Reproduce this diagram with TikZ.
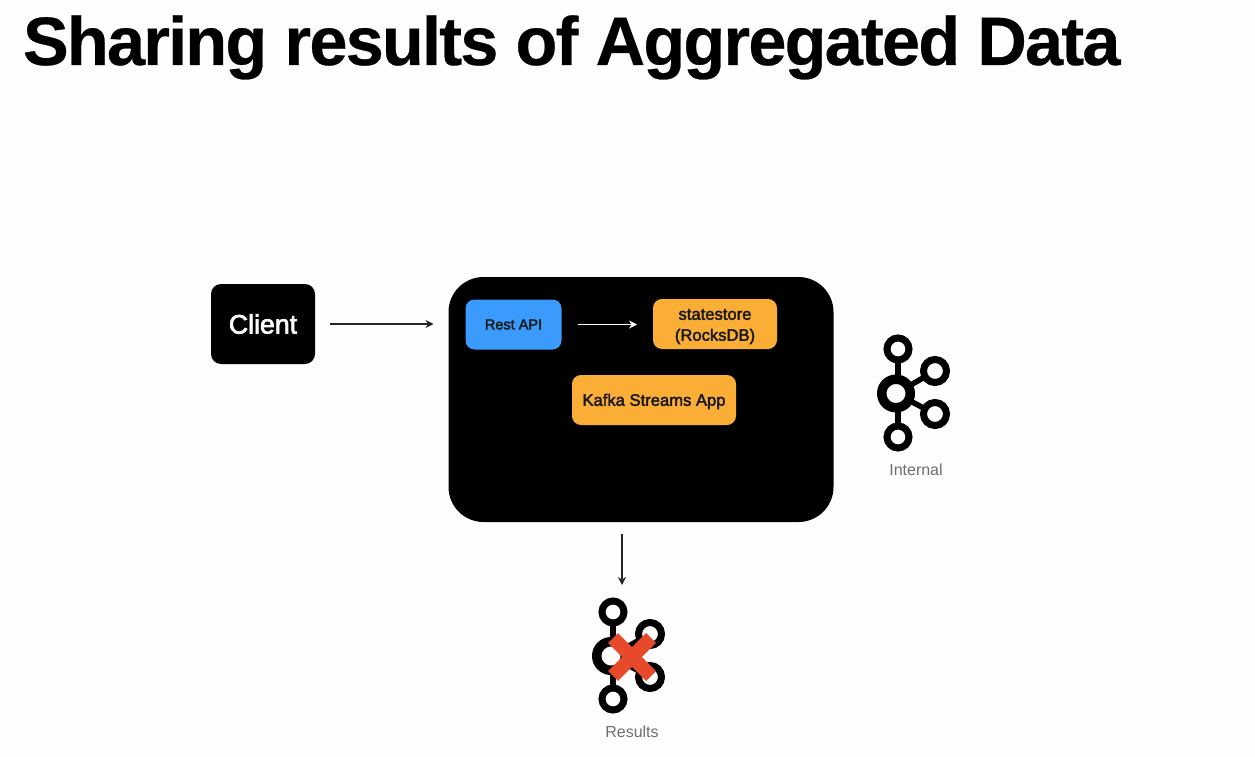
\documentclass[tikz,border=0pt]{standalone}
\usepackage{fontspec}
\setmainfont{Liberation Sans}
\newfontfamily\medfont[FakeBold=2.5]{Liberation Sans}
\newfontfamily\titlefont[FakeBold=0.4,LetterSpace=-2.62]{Liberation Sans Bold}
\usetikzlibrary{arrows.meta}
\definecolor{orangebox}{HTML}{FBAE35}
\definecolor{bluebox}{HTML}{3A9BFC}
\definecolor{crossred}{HTML}{E64A2A}
\definecolor{pagebg}{HTML}{FEFEFE}
\definecolor{labelgrey}{HTML}{6E6E6E}
\tikzset{
  every node/.style={inner sep=0pt,outer sep=0pt,font=\medfont},
  blackbox/.style={fill=black,text=white,rounded corners=#1},
  innerbox/.style={rounded corners=9pt,align=center,text=black!90,font=\medfont\fontsize{16.6}{21}\selectfont},
  flow/.style={line width=1.4pt,-{Stealth[length=8pt,width=8pt]},color=black!85},
  hubring/.style={circle,draw=black,fill=pagebg,line width=9.5pt,minimum size=28.5pt},
  leafring/.style={circle,draw=black,fill=pagebg,line width=7pt,minimum size=22pt},
  siderring/.style={circle,draw=black,fill=pagebg,line width=7pt,minimum size=23pt},
  spoke/.style={line width=5.5pt,color=black},
  iconlabel/.style={text=labelgrey,font=\fontsize{16}{18}\selectfont},
  crossarm/.style={line width=14pt,color=crossred}
}
\begin{document}
\begin{tikzpicture}[x=1pt,y=-1pt]
\useasboundingbox (0,0) rectangle (1255,757);
\fill[pagebg] (0,0) rectangle (1255,757);
\node[anchor=base west,font=\titlefont\fontsize{68.5}{72}\selectfont,text=black] (title) at (23,65) {Sharing results of Aggregated Data};

\node[blackbox=10pt,minimum width=104pt,minimum height=80pt,font=\medfont\fontsize{26.7}{30}\selectfont] (client) at (263,324) {Client};
\node[blackbox=35pt,minimum width=385pt,minimum height=245pt] (app) at (641,399.5) {};
\node[innerbox,fill=bluebox,minimum width=96pt,minimum height=50pt,font=\medfont\fontsize{14.5}{20}\selectfont] (rest) at (513.5,324.5) {Rest API};
\node[innerbox,fill=orangebox,minimum width=124pt,minimum height=50pt] (state) at (715,324) {\rule{0pt}{16pt}statestore\\(RocksDB)};
\node[innerbox,fill=orangebox,minimum width=164pt,minimum height=50pt] (streams) at (654,400) {\rule{0pt}{15pt}Kafka Streams App};

\coordinate (clientout) at (client.east);
\coordinate (appin) at (clientout -| app.west);
\draw[flow,shorten <=15pt,shorten >=15pt] (clientout) -- (appin);
\draw[flow,white,shorten <=16pt,shorten >=16pt] (rest.east) -- (rest.east -| state.west);
\coordinate (appout) at (622,522);
\coordinate (resultsin) at (622,585);
\draw[flow,shorten <=12pt] (appout) -- (resultsin);

% internal icon
\draw[spoke] (898,393.5) -- (898,349);
\draw[spoke] (898,393.5) -- (898,437);
\draw[spoke] (896,393.5) -- (935,371);
\draw[spoke] (896,393.5) -- (935,414);
\node[hubring] (ihub) at (896,393.5) {};
\node[leafring] (itop) at (898,349) {};
\node[leafring] (ibot) at (898,437) {};
\node[siderring] (irt) at (935,371) {};
\node[siderring] (irb) at (935,414) {};
\node[iconlabel] (ilabel) at (916,470) {Internal};

% results icon
\draw[spoke] (613,656) -- (613,612);
\draw[spoke] (613,656) -- (613,699);
\draw[spoke] (611,656) -- (650,634);
\draw[spoke] (611,656) -- (650,677);
\node[hubring] (rhub) at (611,656) {};
\node[leafring] (rtop) at (613,612) {};
\node[leafring] (rbot) at (613,699) {};
\node[siderring] (rrt) at (650,634) {};
\node[siderring] (rrb) at (650,677) {};
\coordinate (xc) at (632,657);
\draw[crossarm] ([shift={(-19,-19)}]xc) -- ([shift={(19,19)}]xc);
\draw[crossarm] ([shift={(-19,19)}]xc) -- ([shift={(19,-19)}]xc);
\node[iconlabel] (rlabel) at (632,732) {Results};
\end{tikzpicture}
\end{document}
